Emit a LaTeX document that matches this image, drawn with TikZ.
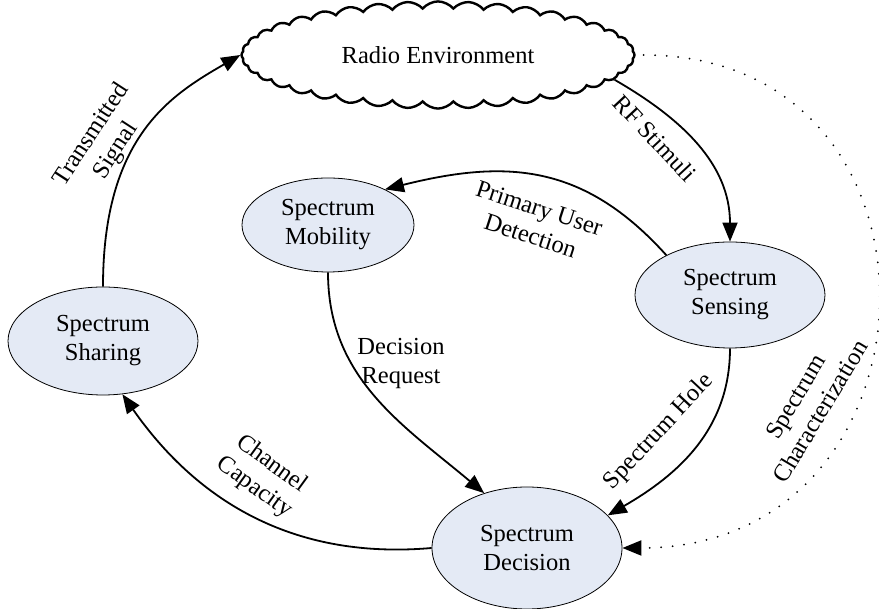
\documentclass[tikz,border=0pt]{standalone}
\usepackage{fontspec}
\setmainfont{Liberation Serif}
\usetikzlibrary{shapes.geometric,shapes.symbols,arrows.meta}
\definecolor{stagefill}{RGB}{228,234,245}
\begin{document}
\begin{tikzpicture}[x=1pt,y=1pt,
  every node/.style={font=\fontsize{24.5}{29}\selectfont, align=center},
  stage/.style={ellipse, draw, line width=0.8pt, fill=stagefill, inner sep=0pt},
  flow/.style={line width=1.8pt, -{Triangle[length=19pt,width=15pt]}},
  hint/.style={line width=2pt, dash pattern=on 0pt off 11.5pt, line cap=round,
               -{Triangle[length=19pt,width=15pt]}},
  tag/.style={inner sep=0pt}]
\useasboundingbox (0,0) rectangle (879,609);

% the shared radio environment
\node[cloud, draw, line width=2.4pt, cloud puffs=40, cloud puff arc=100,
      minimum width=393, minimum height=90, aspect=2.9] (env) at (438,554) {Radio Environment};

% the four cognitive-cycle functions
\node[stage, minimum width=172, minimum height=94]  (mob)  at (328,384) {Spectrum\\Mobility};
\node[stage, minimum width=190, minimum height=106] (sens) at (730,314) {Spectrum\\Sensing};
\node[stage, minimum width=190, minimum height=108] (shar) at (103,268) {Spectrum\\Sharing};
\node[stage, minimum width=190, minimum height=122] (dec)  at (527,61)  {Spectrum\\Decision};

% connectors
\draw[flow] (shar.north) .. controls +(90:150) and +(210:80) .. (env.west);
\draw[flow] (env.-8) to[out=-30,in=90] (sens.north);
\draw[flow] (sens.148) to[out=132,in=14,looseness=1.1] (mob.32);
\draw[flow] (mob.south) to[out=-90,in=140] (dec.128);
\draw[flow] (sens.south) to[out=-90,in=30] (dec.22);
\draw[flow] (dec.west) to[out=185,in=-55] (shar.-70);
\draw[hint, shorten <=8pt] (env.east) .. controls +(330,0) and +(330,0) .. (dec.east);

% connector labels
\node[tag, rotate=57]  (lblTx) at (104,466) {Transmitted\\Signal};
\node[tag, rotate=-47] (lblRF) at (655,471) {RF Stimuli};
\node[tag, rotate=-18] (lblPU) at (535,387) {Primary User\\Detection};
\node[tag]             (lblDR) at (401,245) {Decision\\Request};
\node[tag, rotate=47]  (lblSH) at (659,177) {Spectrum Hole};
\node[tag, rotate=-36] (lblCC) at (263,133) {Channel\\Capacity};
\node[tag, rotate=59]  (lblSC) at (808,205) {Spectrum\\Characterization};
\end{tikzpicture}
\end{document}
